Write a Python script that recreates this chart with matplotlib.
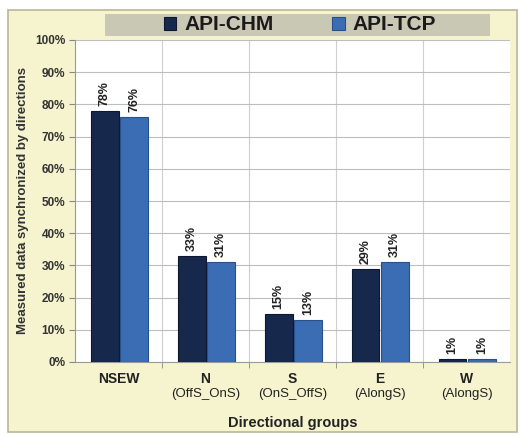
import numpy as np
import matplotlib
matplotlib.use("Agg")
import matplotlib.pyplot as plt
import matplotlib.transforms as mtransforms
from matplotlib.patches import Rectangle

plt.rcParams["font.family"] = ["Liberation Sans", "DejaVu Sans"]

# directional groups and share of measured data per method (%)
groups = ["NSEW", "N", "S", "E", "W"]
group_notes = ["", "(OffS_OnS)", "(OnS_OffS)", "(AlongS)", "(AlongS)"]
api_chm = [78, 33, 15, 29, 1]
api_tcp = [76, 31, 13, 31, 1]
series_names = ["API-CHM", "API-TCP"]
yticks = list(range(0, 101, 10))

dark = "#17284d"
light = "#3a6db3"

fig = plt.figure(figsize=(5.22, 4.34), dpi=100)
fig.patch.set_facecolor("white")

# pale yellow panel behind the whole chart
panel = Rectangle((8 / 522, 2 / 434), 509 / 522, 422 / 434, transform=fig.transFigure,
                  facecolor="#f6f4cf", edgecolor="#b9b79a", lw=1.2, zorder=-10)
fig.patches.append(panel)

ax = fig.add_axes([75 / 522, 72 / 434, 435 / 522, 322 / 434])
ax.set_facecolor("white")
x = np.arange(len(groups))
w = 0.32

ax.bar(x - 0.16, api_chm, w, color=dark, edgecolor="#0d1730", lw=0.8, zorder=3,
       label=series_names[0])
ax.bar(x + 0.18, api_tcp, w, color=light, edgecolor="#28508a", lw=0.8, zorder=3,
       label=series_names[1])

# value labels, rotated like the original
for xi, v in zip(x - 0.16, api_chm):
    ax.text(xi, v + 1.5, f"{v}%", rotation=90, ha="center", va="bottom",
            fontsize=9, fontweight="bold", color="#222222", zorder=4)
for xi, v in zip(x + 0.18, api_tcp):
    ax.text(xi, v + 1.5, f"{v}%", rotation=90, ha="center", va="bottom",
            fontsize=9, fontweight="bold", color="#222222", zorder=4)

ax.set_xlim(-0.5, len(groups) - 0.5)
ax.set_ylim(0, 100)
ax.set_yticks(yticks)
ax.set_yticklabels([f"{t}%" for t in yticks], fontsize=8.5, fontweight="bold", color="#333333")
ax.set_xticks(x)
ax.set_xticklabels(groups, fontsize=10, fontweight="bold", color="#222222")
ax.set_xticks(np.arange(0.5, len(groups) - 0.5), minor=True)
ax.tick_params(axis="x", which="major", length=0, pad=7)
ax.tick_params(axis="x", which="minor", length=4, color="#888888")
ax.tick_params(axis="y", length=4, color="#888888", pad=3)

# second line of each category label, in regular weight
trans = mtransforms.blended_transform_factory(ax.transData, ax.transAxes)
for xi, note in zip(x, group_notes):
    if note:
        ax.text(xi, -0.08, note, transform=trans, ha="center", va="top",
                fontsize=9.5, color="#222222")

ax.grid(axis="y", color="#bdbdbd", lw=0.8, zorder=0)
ax.grid(axis="x", which="minor", color="#cfcfcf", lw=0.8, zorder=0)
for side in ["top", "right"]:
    ax.spines[side].set_visible(False)
ax.spines["left"].set_color("#9a9a9a")
ax.spines["bottom"].set_color("#9a9a9a")

ax.set_ylabel("Measured data synchronized by directions", fontsize=9.5, fontweight="bold",
              color="#333333", labelpad=4)
ax.set_xlabel("Directional groups", fontsize=10.5, fontweight="bold", color="#222222",
              labelpad=22)

# legend sits on a grey band across the top of the plot
band = Rectangle((105 / 522, 398 / 434), 385 / 522, 22 / 434, transform=fig.transFigure,
                 facecolor="#c9c8b4", edgecolor="none", zorder=5)
fig.patches.append(band)
leg = fig.legend(loc="center", bbox_to_anchor=(300 / 522, 409 / 434), ncol=2, frameon=False,
                 prop={"size": 15, "weight": "bold"}, handlelength=0.6, handleheight=0.6,
                 columnspacing=2.8, handletextpad=0.4)
leg.set_zorder(6)
for t in leg.get_texts():
    t.set_color("#1a1a1a")

fig.savefig("out.png", dpi=100)
